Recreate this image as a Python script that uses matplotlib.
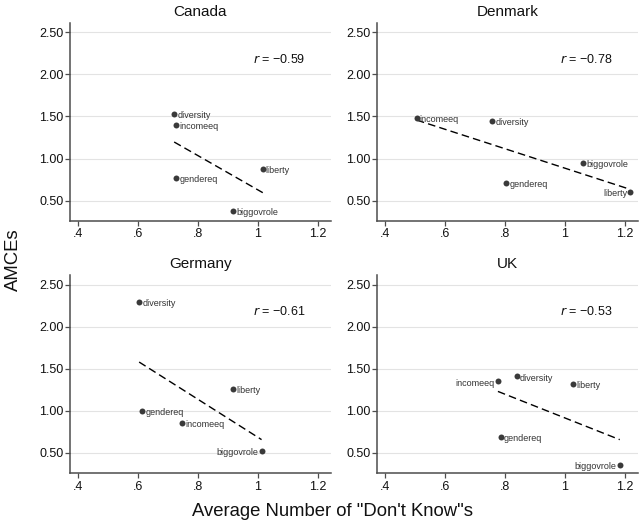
import matplotlib
matplotlib.use("Agg")
import matplotlib.pyplot as plt
import numpy as np

plt.rcParams['font.family'] = ['Liberation Sans', 'DejaVu Sans']

countries = ["Canada", "Denmark", "Germany", "UK"]
r_labels = ["\u22120.59", "\u22120.78", "\u22120.61", "\u22120.53"]

items = {
    "Canada":  ["diversity", "incomeeq", "gendereq", "liberty", "biggovrole"],
    "Denmark": ["incomeeq", "diversity", "gendereq", "biggovrole", "liberty"],
    "Germany": ["diversity", "liberty", "gendereq", "incomeeq", "biggovrole"],
    "UK":      ["incomeeq", "diversity", "liberty", "gendereq", "biggovrole"],
}
dont_know = {
    "Canada":  [0.721, 0.728, 0.728, 1.017, 0.918],
    "Denmark": [0.505, 0.757, 0.804, 1.060, 1.218],
    "Germany": [0.604, 0.917, 0.615, 0.748, 1.013],
    "UK":      [0.776, 0.839, 1.028, 0.786, 1.183],
}
amces = {
    "Canada":  [1.53, 1.40, 0.766, 0.876, 0.381],
    "Denmark": [1.48, 1.445, 0.71, 0.95, 0.60],
    "Germany": [2.29, 1.26, 1.00, 0.854, 0.52],
    "UK":      [1.35, 1.41, 1.32, 0.69, 0.355],
}
label_side = {
    "Canada":  ["r", "r", "r", "r", "r"],
    "Denmark": ["r", "r", "r", "r", "l"],
    "Germany": ["r", "r", "r", "r", "l"],
    "UK":      ["l", "r", "r", "r", "l"],
}

xticks = [0.4, 0.6, 0.8, 1.0, 1.2]
xticklabels = [".4", ".6", ".8", "1", "1.2"]
yticks = [0.5, 1.0, 1.5, 2.0, 2.5]
yticklabels = ["0.50", "1.00", "1.50", "2.00", "2.50"]

W, H = 643, 527
fig = plt.figure(figsize=(W / 100, H / 100), dpi=100)

lefts = [70, 377.3, 70, 377.3]
tops = [22.7, 22.7, 275, 275]
aw, ah = 261, 198

spine_c = "#4d4d4d"
for i, c in enumerate(countries):
    ax = fig.add_axes([lefts[i] / W, 1 - (tops[i] + ah) / H, aw / W, ah / H])
    ax.set_xlim(0.373, 1.245)
    ax.set_ylim(0.262, 2.614)
    ax.set_xticks(xticks)
    ax.set_xticklabels(xticklabels)
    ax.set_yticks(yticks)
    ax.set_yticklabels(yticklabels)
    ax.tick_params(axis='both', labelsize=9, length=3.5, width=0.9, color=spine_c,
                   labelcolor="#111111")
    ax.tick_params(axis='y', pad=1.2)
    ax.tick_params(axis='x', pad=2.0)
    for s in ["top", "right"]:
        ax.spines[s].set_visible(False)
    for s in ["left", "bottom"]:
        ax.spines[s].set_color(spine_c)
        ax.spines[s].set_linewidth(1.1)
    ax.yaxis.grid(True, color="#e3e3e3", linewidth=0.8)
    ax.set_axisbelow(True)

    x = np.array(dont_know[c])
    y = np.array(amces[c])
    slope, icpt = np.polyfit(x, y, 1)
    xs = np.array([x.min(), x.max()])
    ax.plot(xs, icpt + slope * xs, color="black", linewidth=1.0,
            linestyle=(0, (5.5, 3.0)), zorder=2)
    ax.plot(x, y, "o", color="#3a3a3a", markersize=4.3, markeredgewidth=0, zorder=3)
    for xi, yi, lab, side in zip(x, y, items[c], label_side[c]):
        if side == "r":
            ax.annotate(lab, (xi, yi), xytext=(2.2, -1.2), textcoords="offset points",
                        ha="left", va="center", fontsize=6.5, color="#333333")
        else:
            ax.annotate(lab, (xi, yi), xytext=(-2.2, -1.2), textcoords="offset points",
                        ha="right", va="center", fontsize=6.5, color="#333333")
    ax.text(0.985, 2.18, "$r$ = " + r_labels[i], fontsize=9, ha="left", va="center",
            color="#111111")
    ax.set_title(c, fontsize=11, pad=5.0, color="#111111")

fig.text(13 / W, 1 - 260 / H, "AMCEs", rotation=90, ha="center", va="center",
         fontsize=13.3, color="#111111")
fig.text(333 / W, 1 - 511 / H, "Average Number of \"Don't Know\"s", ha="center",
         va="center", fontsize=13.3, color="#111111")

fig.savefig("out.png", dpi=100)
